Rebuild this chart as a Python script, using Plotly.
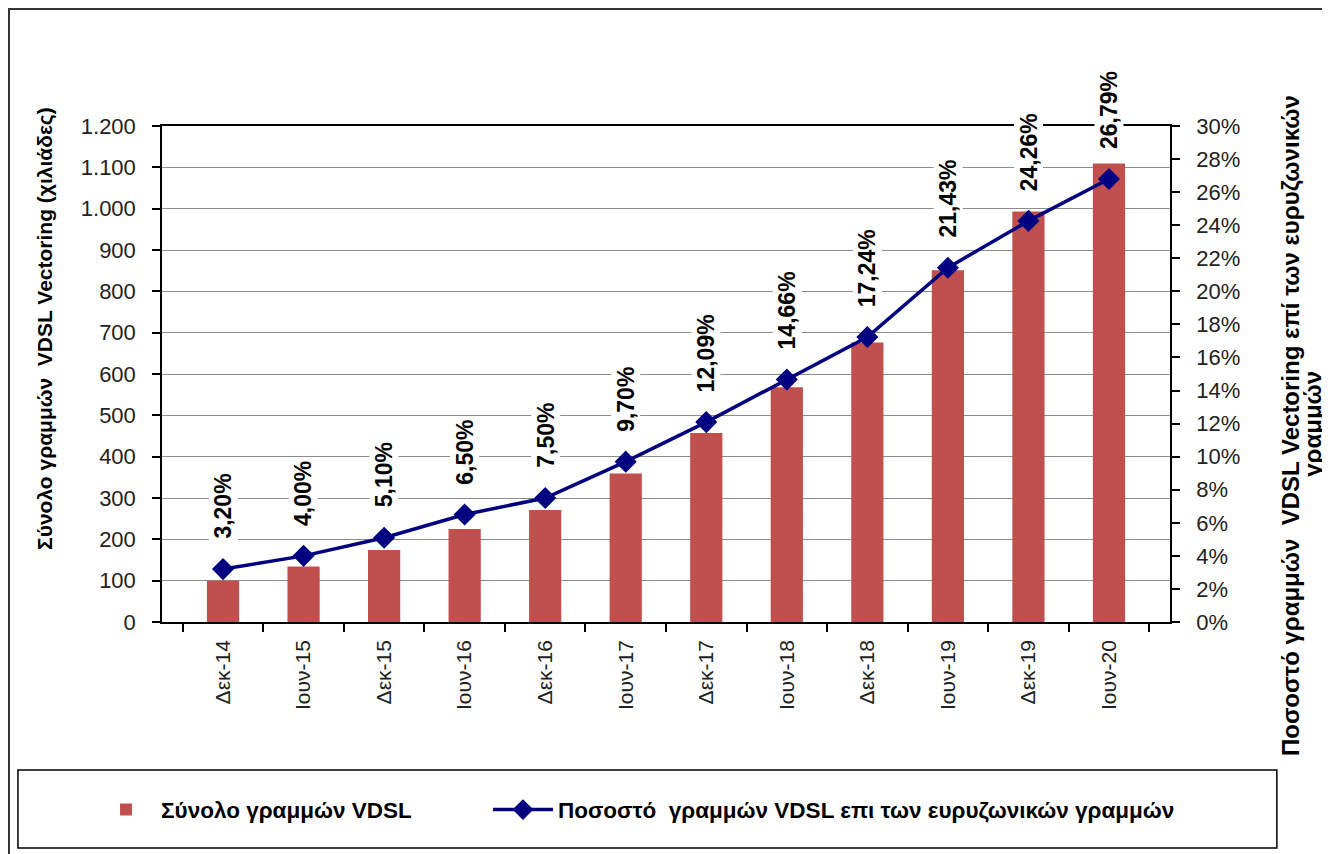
import plotly.graph_objects as go

categories = ["Δεκ-14", "Ιουν-15", "Δεκ-15", "Ιουν-16", "Δεκ-16", "Ιουν-17",
              "Δεκ-17", "Ιουν-18", "Δεκ-18", "Ιουν-19", "Δεκ-19", "Ιουν-20"]
vdsl_lines = [100, 134, 174, 225, 271, 359, 457, 568, 676, 851, 993, 1109]
vdsl_pct = [3.20, 4.00, 5.10, 6.50, 7.50, 9.70, 12.09, 14.66, 17.24, 21.43, 24.26, 26.79]

bar_name = "Σύνολο γραμμών VDSL"
line_name = "Ποσοστό  γραμμών VDSL επι των ευρυζωνικών γραμμών"
left_title = "Σύνολο γραμμών  VDSL Vectoring (χιλιάδες)"
right_title_1 = "Ποσοστό γραμμών  VDSL Vectoring επί των ευρυζωνικών"
right_title_2 = "γραμμών"

FONT = "Liberation Sans, Arial, sans-serif"
NARROW = "Liberation Sans Narrow, Arial Narrow, Liberation Sans, sans-serif"

fig = go.Figure()
fig.add_trace(go.Bar(
    x=categories, y=vdsl_lines, name=bar_name,
    marker=dict(color="#C0504D", line=dict(width=0)),
    yaxis="y", legend="legend",
))
fig.add_trace(go.Scatter(
    x=categories, y=vdsl_pct, name=line_name, yaxis="y2",
    mode="lines+markers",
    line=dict(color="#000080", width=3.5),
    marker=dict(symbol="diamond", size=17, color="#000080"),
    cliponaxis=False, legend="legend2",
))

annotations = []
for c, p in zip(categories, vdsl_pct):
    annotations.append(dict(
        x=c, y=p, xref="x", yref="y2",
        text=f"{p:.2f}%".replace(".", ","),
        textangle=-90, showarrow=False, yanchor="bottom", xanchor="center",
        yshift=28, bgcolor="white", borderpad=1,
        font=dict(family=FONT, size=23, color="black", weight="bold"),
    ))

annotations.append(dict(
    x=-0.116, y=0.591, xref="paper", yref="paper", text=left_title,
    textangle=-90, showarrow=False, xanchor="center", yanchor="middle",
    font=dict(family=FONT, size=21, color="black", weight="bold"),
))
annotations.append(dict(
    x=1.119, y=0.397, xref="paper", yref="paper", text=right_title_1,
    textangle=-90, showarrow=False, xanchor="center", yanchor="middle",
    font=dict(family=NARROW, size=24, color="black", weight="bold"),
))
annotations.append(dict(
    x=1.141, y=0.40, xref="paper", yref="paper", text=right_title_2,
    textangle=-90, showarrow=False, xanchor="center", yanchor="middle",
    font=dict(family=NARROW, size=24, color="black", weight="bold"),
))

shapes = [
    dict(type="rect", xref="paper", yref="paper",
         x0=-0.1518, x1=1.1518, y0=-0.48, y1=1.236,
         line=dict(color="#333333", width=2), layer="below"),
    dict(type="rect", xref="paper", yref="paper",
         x0=-0.1429, x1=1.106, y0=-0.4556, y1=-0.2984,
         line=dict(color="black", width=1.5), layer="below"),
]

legend_font = dict(family=NARROW, size=22.5, color="black", weight="bold")

fig.update_layout(
    width=1322, height=846,
    margin=dict(l=154, r=160, t=118, b=232),
    paper_bgcolor="white", plot_bgcolor="white",
    separators=",.",
    bargap=0.6,
    showlegend=True,
    legend=dict(
        orientation="h", x=-0.0704, y=-0.379, xanchor="left", yanchor="middle",
        font=legend_font, itemwidth=60, bgcolor="rgba(0,0,0,0)",
    ),
    legend2=dict(
        orientation="h", x=0.3234, y=-0.379, xanchor="left", yanchor="middle",
        font=legend_font, itemwidth=60, bgcolor="rgba(0,0,0,0)",
    ),
    xaxis=dict(
        type="category", tickangle=-90,
        showline=True, linecolor="black", linewidth=1.5, mirror=True,
        ticks="outside", ticklen=8, tickcolor="black", tickwidth=1.5,
        tickson="boundaries", showgrid=False,
        tickfont=dict(family=FONT, size=21, color="#222222"),
        ticklabelstandoff=8,
    ),
    yaxis=dict(
        range=[0, 1200], dtick=100, tickformat=",d",
        showline=True, linecolor="black", linewidth=1.5,
        ticks="outside", ticklen=8, tickcolor="black", tickwidth=1.5,
        showgrid=True, gridcolor="#8c8c8c", gridwidth=1,
        zeroline=False,
        tickfont=dict(family=FONT, size=22, color="#222222"),
        ticklabelstandoff=12,
    ),
    yaxis2=dict(
        range=[0, 30], dtick=2, ticksuffix="%", tickprefix="\u00a0\u00a0",
        overlaying="y", side="right",
        showline=True, linecolor="black", linewidth=1.5,
        ticks="outside", ticklen=8, tickcolor="black", tickwidth=1.5,
        showgrid=False, zeroline=False,
        tickfont=dict(family=FONT, size=22, color="#222222"),
    ),
    annotations=annotations,
    shapes=shapes,
)

fig.write_html("out.html")
